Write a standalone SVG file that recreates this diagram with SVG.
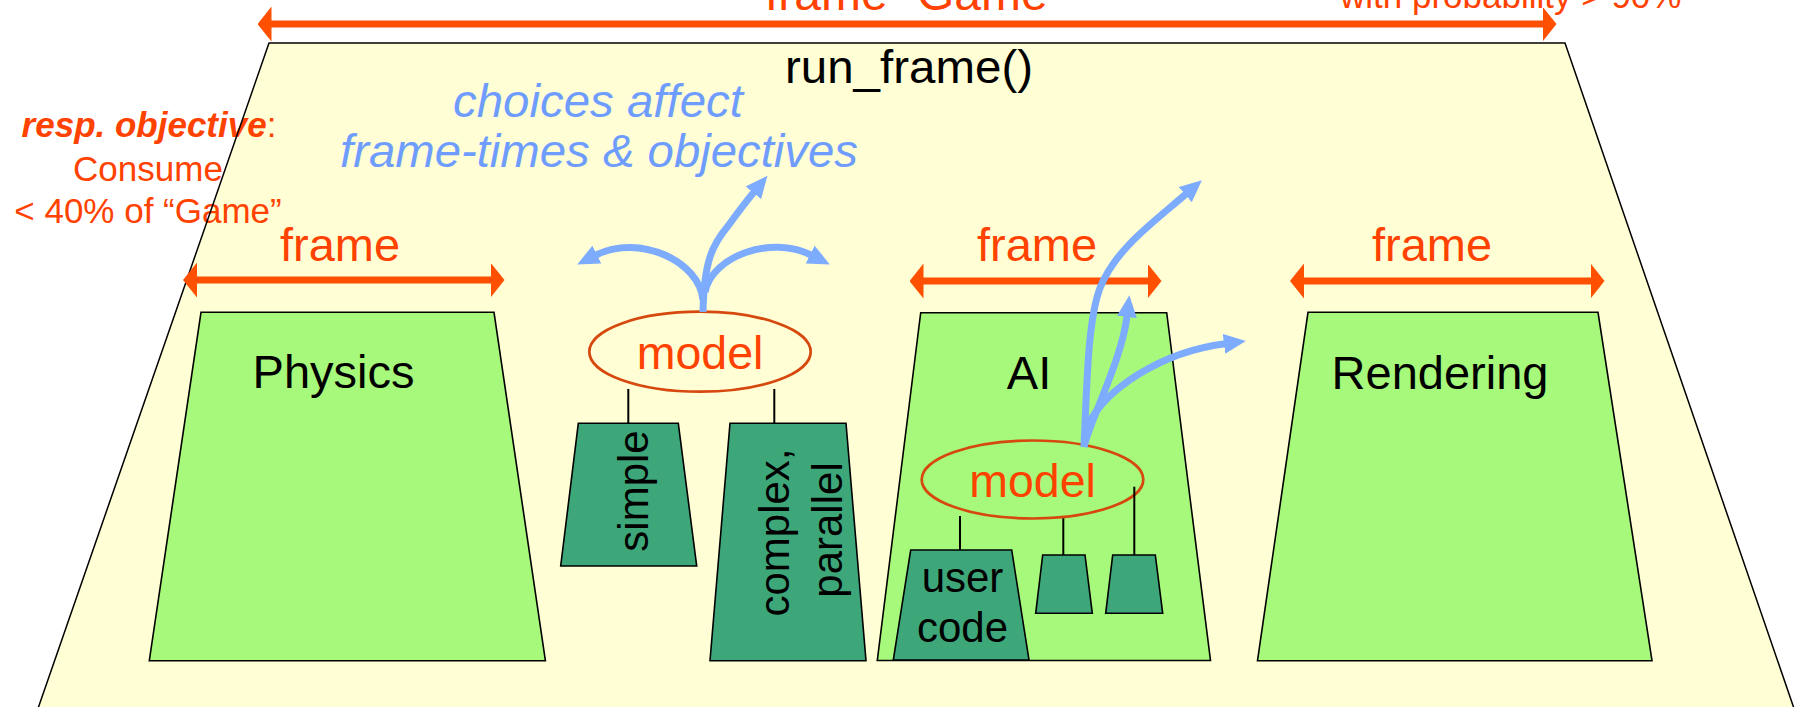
<svg xmlns="http://www.w3.org/2000/svg" width="1797" height="707" viewBox="0 0 1797 707">
<style>
text{font-family:"Liberation Sans",Arial,"DejaVu Sans",sans-serif}
.bg{fill:#FFFED4}
.bgline{fill:none;stroke:#000;stroke-width:1.5}
.box{fill:#A6F97A;stroke:#000;stroke-width:1.6}
.sub{fill:#3DA77A;stroke:#000;stroke-width:1.6}
.red{fill:#FF4200}
.blk{fill:#000}
.blue{fill:#6F9DFF;font-style:italic}
.oarrow{stroke:#FF5000;stroke-width:7;fill:none;marker-start:url(#oh);marker-end:url(#oh)}
.barrow{stroke:#7DACFF;stroke-width:7;fill:none;marker-end:url(#bh)}
.conn{stroke:#000;stroke-width:2}
.model{fill:none;stroke:#D6480E;stroke-width:2.7}
</style>
<defs>
<marker id="oh" markerUnits="userSpaceOnUse" markerWidth="14" markerHeight="35" viewBox="0 0 14 35" refX="1" refY="17.5" orient="auto-start-reverse"><path d="M0,0 L14,17.5 L0,35 Z" fill="#FF5000"/></marker>
<marker id="bh" markerUnits="userSpaceOnUse" markerWidth="22" markerHeight="20" viewBox="0 0 22 20" refX="1" refY="10" orient="auto"><path d="M0,0 L22,10 L0,20 Z" fill="#7DACFF"/></marker>
</defs>
<rect width="1797" height="707" fill="#fff"/>

<g id="game-frame">
<polygon class="bg" points="269,43 1565,43 1798,720 34,720"/>
</g>

<g id="top-labels">
<text x="765" y="10" font-size="48" class="red">frame “Game”</text>
<text x="1340" y="8" font-size="35" class="red">with probability &gt; 90%</text>
<text x="785" y="83" font-size="47" class="blk" textLength="248" lengthAdjust="spacingAndGlyphs">run_frame()</text>
</g>

<g id="objective-note" font-size="35" text-anchor="middle">
<text x="149" y="137" class="red"><tspan font-weight="bold" font-style="italic">resp. objective</tspan>:</text>
<text x="148" y="181" class="red">Consume</text>
<text x="148" y="223" class="red">&lt; 40% of “Game”</text>
</g>

<g id="game-frame-outline">
<polyline class="bgline" points="34,720 269,43 1565,43 1798,720"/>
</g>

<g id="choices-note" font-size="47">
<text x="453" y="117" class="blue" textLength="290" lengthAdjust="spacingAndGlyphs">choices affect</text>
<text x="340" y="167" class="blue" textLength="518" lengthAdjust="spacingAndGlyphs">frame-times &amp; objectives</text>
</g>

<g id="frame-arrows">
<line class="oarrow" x1="270.5" y1="24" x2="1543.5" y2="24"/>
<line class="oarrow" x1="196" y1="280" x2="491.5" y2="280"/>
<line class="oarrow" x1="922.5" y1="281" x2="1148.5" y2="281"/>
<line class="oarrow" x1="1303" y1="281" x2="1591.5" y2="281"/>
<g font-size="47" text-anchor="middle" class="red">
<text x="340" y="261">frame</text>
<text x="1037" y="261">frame</text>
<text x="1432" y="261">frame</text>
</g>
</g>

<g id="physics">
<polygon class="box" points="201,312.3 494,312.3 545.4,660.7 149.3,660.7"/>
<text x="333.5" y="388" font-size="47" text-anchor="middle" class="blk">Physics</text>
</g>

<g id="ai">
<polygon class="box" points="920.7,312.7 1166.7,312.7 1210.5,660.5 877.3,660.5"/>
<text x="1029" y="389" font-size="47" text-anchor="middle" class="blk">AI</text>
</g>

<g id="rendering">
<polygon class="box" points="1308,312.3 1598,312.3 1652,660.7 1257.5,660.7"/>
<text x="1440" y="389" font-size="47" text-anchor="middle" class="blk">Rendering</text>
</g>

<g id="model-physics">
<ellipse class="model" cx="700" cy="351.7" rx="110.7" ry="40"/>
<text x="700" y="369.3" font-size="46.5" text-anchor="middle" class="red">model</text>
</g>

<g id="simple">
<polygon class="sub" points="578.3,423.3 678.3,423.3 696.7,566 560.7,566"/>
<text transform="translate(648,491) rotate(-90)" font-size="42" text-anchor="middle" class="blk">simple</text>
</g>

<g id="complex-parallel">
<polygon class="sub" points="730,423.3 846,423.3 866,660.7 710,660.7"/>
<text transform="translate(789,532.5) rotate(-90)" font-size="42" text-anchor="middle" class="blk">complex,</text>
<text transform="translate(842,530) rotate(-90)" font-size="42" text-anchor="middle" class="blk">parallel</text>
</g>

<g id="model-ai">
<ellipse class="model" cx="1032.5" cy="479.5" rx="110.8" ry="39"/>
<text x="1032.5" y="496.7" font-size="46.5" text-anchor="middle" class="red">model</text>
</g>

<g id="user-code">
<polygon class="sub" points="910.7,550 1011.7,550 1029,660 893.3,660"/>
<text x="962.5" y="591.7" font-size="42" text-anchor="middle" class="blk">user</text>
<text x="962.5" y="642.3" font-size="42" text-anchor="middle" class="blk">code</text>
</g>

<g id="ai-sub-1">
<polygon class="sub" points="1042.7,555 1085,555 1092.3,613.3 1035.7,613.3"/>
</g>

<g id="ai-sub-2">
<polygon class="sub" points="1112.7,555 1155.3,555 1162.7,613.3 1105.7,613.3"/>
</g>

<g id="connectors">
<line class="conn" x1="628.3" y1="389" x2="628.3" y2="423.3"/>
<line class="conn" x1="774.3" y1="389" x2="774.3" y2="423.3"/>
<line class="conn" x1="960" y1="516" x2="960" y2="550"/>
<line class="conn" x1="1063.3" y1="518.3" x2="1063.3" y2="555"/>
<line class="conn" x1="1134.3" y1="486.7" x2="1134.3" y2="555"/>
<path class="barrow" d="M703,312 C704,262 712,245 728,226 C736,215 744,204 754,192"/>
<path class="barrow" d="M703,300 C700,262 640,233 596,255"/>
<path class="barrow" d="M705,292 C712,256 771,235 811,255"/>
<path class="barrow" d="M1084,447 C1087,380 1088,320 1100,288 C1115,250 1150,225 1186,194"/>
<path class="barrow" d="M1084,447 C1090,420 1122,360 1127,316"/>
<path class="barrow" d="M1088,425 C1105,390 1160,352 1225,343.7"/>
</g>
</svg>
